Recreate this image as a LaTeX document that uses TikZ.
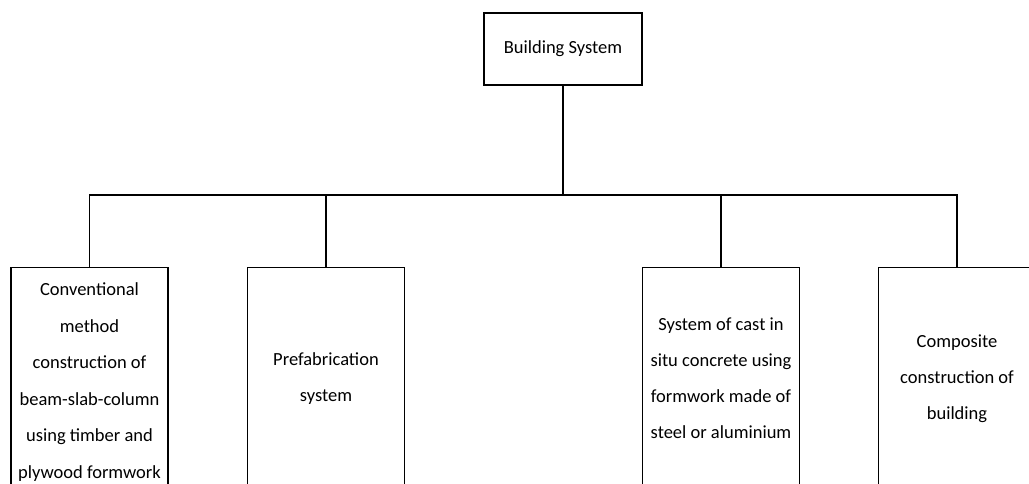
\documentclass[tikz,border=0pt]{standalone}
\usepackage{fontspec}
\setmainfont{Carlito}
\begin{document}
\begin{tikzpicture}[x=1pt,y=1pt,
  every node/.style={font=\fontsize{18.5}{36}\selectfont},
  line/.style={draw=black, line width=1.2pt},
  topbox/.style={line, rectangle, minimum width=158pt, minimum height=72pt, inner sep=0pt, align=center},
  childbox/.style={line, rectangle, minimum width=157pt, minimum height=222pt, inner sep=0pt, align=center, anchor=north}]
\useasboundingbox (0,0) rectangle (1029,-484);
\clip (0,0) rectangle (1029,-484);
\node[topbox] (top) at (563,-49) {Building System};
\coordinate (bus) at (563,-195);
\node[childbox, minimum height=229pt, font=\fontsize{18.5}{36.6}\selectfont] (b1) at (89.5,-267) {Conventional\\method\\construction of\\beam-slab-column\\using timber and\\plywood formwork};
\node[childbox] (b2) at (326,-267) {Prefabrication\\system};
\node[childbox] (b3) at (721,-267) {System of cast in\\situ concrete using\\formwork made of\\steel or aluminium};
\node[childbox] (b4) at (957,-267) {Composite\\construction of\\building};
\draw[line] (top.south) -- (bus);
\draw[line] (bus) -| (b1.north);
\draw[line] (bus) -| (b2.north);
\draw[line] (bus) -| (b3.north);
\draw[line] (bus) -| (b4.north);
\end{tikzpicture}
\end{document}
